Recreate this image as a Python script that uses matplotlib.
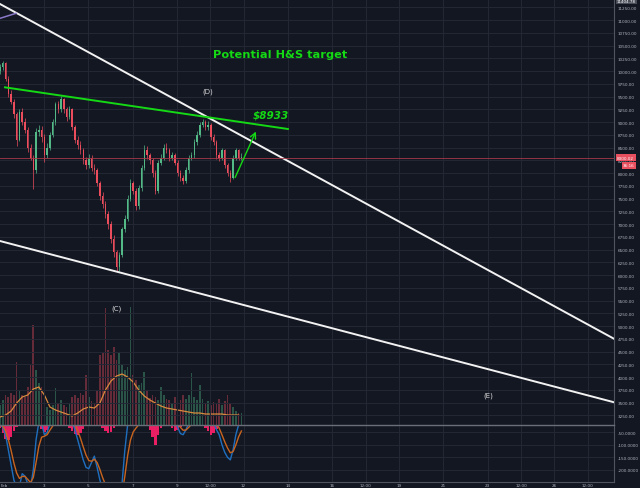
import matplotlib
matplotlib.use('Agg')
import matplotlib.pyplot as plt
import numpy as np
import pandas as pd

# 3h candles starting Feb 1
closes = [10080, 10150, 9850, 9550, 9400, 9150, 8650, 9200, 9000, 8850,
          8500, 8300, 8050, 8800, 8850, 8700, 8350, 8500, 8750, 9000,
          9350, 9250, 9450, 9250, 9100, 9250, 8900, 8650, 8550, 8450,
          8250, 8150, 8300, 8100, 8050, 7800, 7550, 7400, 7200, 7000,
          6700, 6450, 6150, 6400, 6900, 7100, 7500, 7800, 7650, 7350,
          7700, 8100, 8450, 8350, 8250, 8000, 7650, 8200, 8300, 8500,
          8450, 8300, 8350, 8200, 8000, 7900, 7850, 8050, 8300, 8350,
          8600, 8750, 8950, 9000, 8900, 8950, 8700, 8600, 8350, 8300,
          8450, 8150, 8000, 7900, 8300, 8450, 8300, 8320]
highs = [10140, 10200, 10180, 9900, 9620, 9450, 9200, 9260, 9280, 9080,
         8900, 8560, 8350, 8880, 8950, 8920, 8760, 8580, 8800, 9060,
         9400, 9420, 9510, 9480, 9300, 9320, 9280, 8950, 8720, 8620,
         8500, 8320, 8380, 8350, 8180, 8100, 7850, 7620, 7450, 7260,
         7050, 6780, 6500, 6460, 6950, 7180, 7560, 7880, 7850, 7700,
         7760, 8150, 8550, 8520, 8400, 8300, 8050, 8260, 8380, 8560,
         8580, 8500, 8420, 8400, 8250, 8060, 7960, 8120, 8360, 8420,
         8660, 8820, 9000, 9050, 9040, 9020, 8980, 8760, 8650, 8420,
         8500, 8480, 8200, 8050, 8350, 8500, 8480, 8400]
lows = [9950, 10020, 9800, 9500, 9350, 9080, 8530, 8620, 8950, 8780,
        8420, 8250, 7690, 8000, 8720, 8600, 8215, 8300, 8450, 8700,
        8950, 9180, 9200, 9180, 9020, 9050, 8850, 8580, 8480, 8380,
        8180, 8080, 8100, 8030, 7980, 7740, 7480, 7320, 7120, 6900,
        6620, 6350, 6070, 6080, 6350, 6850, 7050, 7450, 7580, 7280,
        7300, 7650, 8050, 8280, 8180, 7920, 7590, 7600, 8150, 8250,
        8400, 8240, 8250, 8150, 7940, 7840, 7780, 7800, 8000, 8260,
        8300, 8550, 8700, 8900, 8840, 8850, 8640, 8540, 8280, 8240,
        8260, 8100, 7940, 7820, 7880, 8260, 8250, 8260]
first_open = 10000

volumes = [20, 25, 30, 28, 32, 30, 63, 35, 30, 28, 38, 60, 100, 55, 42, 38, 30, 18,
           15, 20, 37, 22, 25, 20, 18, 22, 28, 30, 27, 32, 30, 50, 28, 24, 22, 35,
           70, 72, 117, 75, 70, 78, 65, 72, 60, 55, 58, 118, 50, 45, 40, 42, 53, 35,
           27, 30, 28, 25, 38, 30, 26, 25, 22, 28, 24, 25, 30, 26, 30, 52, 28, 25,
           40, 26, 22, 24, 20, 23, 22, 26, 20, 24, 30, 22, 18, 14, 12, 12]
# volume moving average, one point every 6h
vol_ma = [8, 10, 14, 22, 28, 30, 36, 38, 30, 18, 15, 13, 11, 9, 12, 16, 18, 17,
          22, 35, 44, 49, 51, 48, 43, 35, 29, 25, 22, 19, 17, 16, 15, 14, 13, 12,
          12, 11, 11, 11, 11, 10, 10, 10]

osc = [-20, -30, -60, -120, -180, -240, -270, -265, -215, -225, -255, -270, -200, -80,
       -10, -15, -60, -50, -15, 0, 10, 10, 15, 5, 0, 0, -10, -40, -80, -120,
       -160, -190, -195, -170, -145, -190, -240, -280, -300, -320, -330, -340, -340, -320,
       -250, -120, -20, 10, 0, -10, 0, 20, 30, 20, 10, -5, -20, -10, 5, 15,
       10, 0, 0, -10, -30, -55, -60, -40, -15, 0, 10, 20, 25, 20, 10, 5,
       0, -10, -40, -60, -100, -130, -150, -160, -120, -60, -20, -10]
hist_depth = [12, 32, 56, 60, 48, 24, 8, 0, 0, 0, 0, 0, 0, 0, 0, 16, 28, 20, 0, 0,
              0, 0, 0, 0, 0, 12, 24, 36, 40, 32, 16, 0, 0, 0, 0, 0, 0, 12, 24, 32,
              28, 12, 0, 0, 0, 0, 0, 0, 0, 0, 0, 0, 0, 0, 20, 48, 80, 40, 12, 0,
              0, 0, 12, 24, 20, 8, 0, 0, 0, 0, 0, 0, 0, 0, 12, 24, 40, 32, 16, 0,
              0, 0, 0, 0, 0, 0, 0, 0]

tick_days = [3, 5, 7, 9, 10.5, 12, 14, 16, 17.5, 19, 21, 23, 24.5, 26, 27.5]
tick_labels = ['3', '5', '7', '9', '12:00', '12', '14', '16', '12:00', '19',
               '21', '23', '12:00', '26', '12:00']

# drawings (day, price)
upper_line = [(1.03, 11314), (28.69, 4750)]
lower_line = [(1.03, 6667), (28.69, 3505)]
neckline = [(1.255, 9680), (14.0, 8863)]
arrow_pts = [(11.57, 7863), (12.61, 8863)]
purple_line = [(1.03, 11033), (1.75, 11131)]
last_price = 8300

bg = '#131722'
grid_c = '#242835'
txt_c = '#b2b5be'
up_c = '#53b987'
dn_c = '#eb4d5c'
green = '#14d914'

fig = plt.figure(figsize=(6.4, 4.89), dpi=100, facecolor=bg)
ax = fig.add_axes([0, 0.1288, 0.9594, 0.8712])
vax = ax.twinx()
ax2 = fig.add_axes([0, 0.0123, 0.9594, 0.1166], sharex=ax)

t = 1.03 + np.arange(len(closes)) * 0.125
opens = [first_open] + closes[:-1]
up = np.array(closes) >= np.array(opens)
colors = [up_c if u else dn_c for u in up]

# volume on twin axis
vax.bar(t, volumes, width=0.075, color=colors, alpha=0.38, linewidth=0)
t_ma = 1.03 + np.arange(len(vol_ma)) * 0.25
vax.plot(t_ma, vol_ma, color='#d98a3d', lw=0.9)
vax.set_ylim(0, 426)
vax.set_axis_off()
vax.set_zorder(1)
ax.set_zorder(2)
ax.patch.set_visible(False)
fig.patch.set_facecolor(bg)

# candles
ax.vlines(t, lows, highs, colors=colors, lw=0.5)
body_lo = np.minimum(opens, closes)
body_h = np.maximum(np.abs(np.array(closes) - np.array(opens)), 10)
ax.bar(t, body_h, bottom=body_lo, width=0.065, color=colors, linewidth=0)

# trend lines
for ln in (upper_line, lower_line):
    ax.plot([p[0] for p in ln], [p[1] for p in ln], color='#f2f2f2', lw=1.4)
ax.plot([p[0] for p in neckline], [p[1] for p in neckline], color=green, lw=1.4)
ax.plot([p[0] for p in purple_line], [p[1] for p in purple_line], color='#8a78c8', lw=1.1)
ax.annotate('', xy=arrow_pts[1], xytext=arrow_pts[0],
            arrowprops=dict(arrowstyle='->', color=green, lw=1.0))
ax.axhline(last_price, color='#a8394a', lw=0.6)

ax.text(13.64, 10333, 'Potential H&S target', color=green, fontsize=8.2,
        fontweight='bold', ha='center', va='center')
ax.text(13.24, 9157, '$8933', color=green, fontsize=7.5, fontweight='bold',
        fontstyle='italic', ha='center', va='center')
ax.text(10.40, 9614, '(D)', color='#d8d8d8', fontsize=5, ha='center', va='center')
ax.text(6.26, 5353, '(C)', color='#d8d8d8', fontsize=5, ha='center', va='center')
ax.text(23.01, 3653, '(E)', color='#d8d8d8', fontsize=5, ha='center', va='center')

ax.set_xlim(1.03, 28.69)
ax.set_ylim(3059, 11412)
ax.set_facecolor(bg)
ax.yaxis.tick_right()
ax.set_yticks(np.arange(3250, 11251, 250))
ax.set_yticklabels(['%.2f' % v for v in np.arange(3250, 11251, 250)])
ax.tick_params(axis='y', colors=txt_c, labelsize=3, length=0, pad=2.5)
ax.tick_params(axis='x', bottom=False, labelbottom=False)
ax.set_xticks(tick_days)
ax.grid(True, color=grid_c, lw=0.7)
ax.set_axisbelow(True)
for s in ('top', 'left'):
    ax.spines[s].set_visible(False)
ax.spines['right'].set_color('#50545f')
ax.spines['bottom'].set_color('#6a6e78')
ax.spines['bottom'].set_linewidth(1)

# price labels on the scale
ax.text(1.005, last_price, '%.2f' % (last_price + 0.02), transform=ax.get_yaxis_transform(),
        fontsize=3, color='white', va='center', ha='left', clip_on=False,
        bbox=dict(boxstyle='square,pad=0.35', fc='#e8505f', ec='none'))
ax.text(1.015, last_price - 150, '36:16', transform=ax.get_yaxis_transform(),
        fontsize=3, color='white', va='center', ha='left', clip_on=False,
        bbox=dict(boxstyle='square,pad=0.35', fc='#e8505f', ec='none'))
ax.text(1.005, 0.9995, '11404.78', transform=ax.transAxes,
        fontsize=3, color='white', va='top', ha='left', clip_on=False,
        bbox=dict(boxstyle='square,pad=0.2', fc='#4a4e59', ec='none'))

# oscillator pane
orange = pd.Series(osc).ewm(span=4).mean()
ax2.set_facecolor(bg)
ax2.bar(t, -np.array(hist_depth), bottom=-21, width=0.11, color='#e91e63', linewidth=0)
ax2.plot(t, osc, color='#1f6fbf', lw=1)
ax2.plot(t, orange, color='#c8641e', lw=1)
ax2.set_ylim(-248, -21)
ax2.yaxis.tick_right()
ax2.set_yticks([-50, -100, -150, -200])
ax2.set_yticklabels(['-50.0000', '-100.0000', '-150.0000', '-200.0000'])
ax2.set_xticks(tick_days)
ax2.set_xticklabels(tick_labels)
ax2.tick_params(axis='y', colors=txt_c, labelsize=3, length=0, pad=2.5)
ax2.tick_params(axis='x', colors=txt_c, labelsize=3, length=0, pad=0.8)
ax2.grid(True, color=grid_c, lw=0.7)
ax2.set_axisbelow(True)
for s in ('top', 'left'):
    ax2.spines[s].set_visible(False)
ax2.spines['right'].set_color('#50545f')
ax2.spines['bottom'].set_color('#50545f')
ax2.text(0.001, -0.015, 'Feb', transform=ax2.transAxes, fontsize=3,
         color=txt_c, ha='left', va='top', clip_on=False)

fig.savefig('out.png', dpi=100, facecolor=bg)
